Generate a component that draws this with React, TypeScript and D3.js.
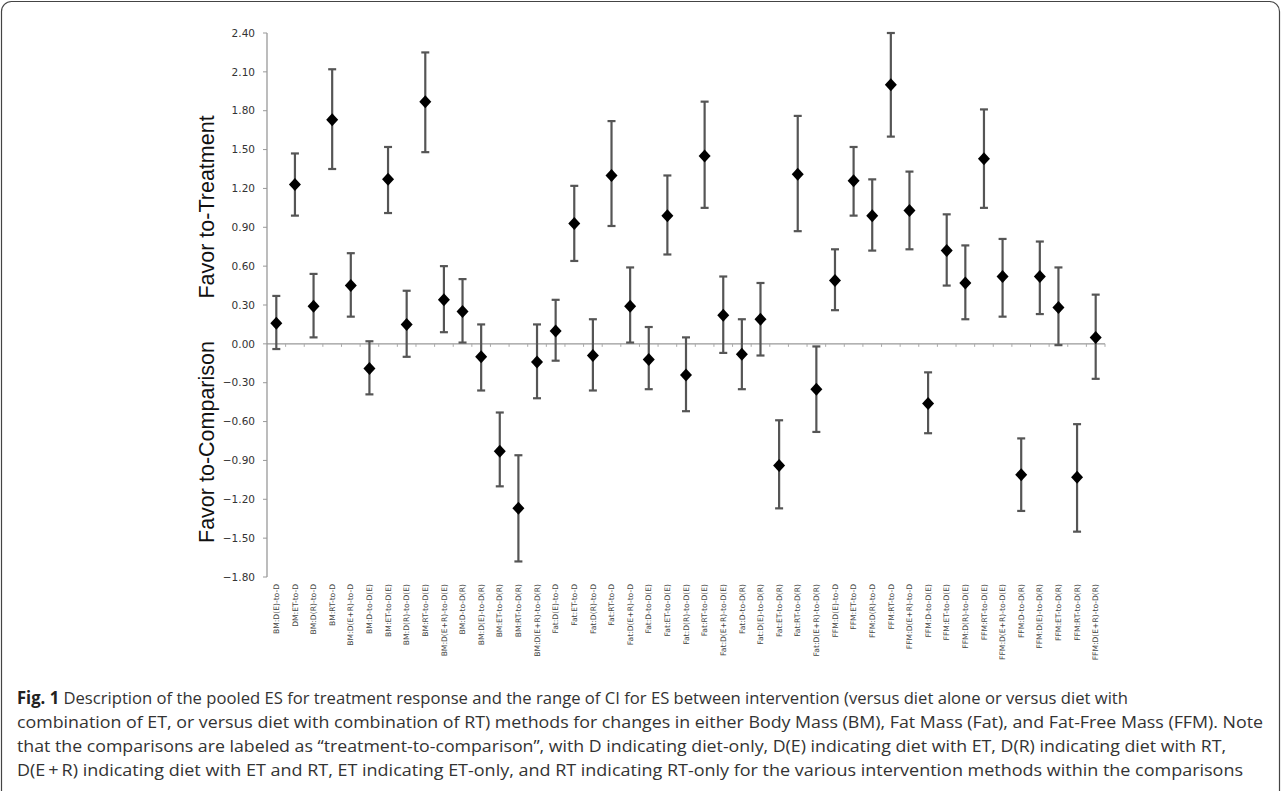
import React from 'react';
import * as d3 from 'd3';

// comparisons, in the order they appear on the x axis
const categories = [
  'BM:D(E)-to-D', 'DM:ET-to-D', 'BM:D(R)-to-D', 'BM:RT-to-D', 'BM:D(E+R)-to-D',
  'BM:D-to-D(E)', 'BM:ET-to-D(E)', 'BM:D(R)-to-D(E)', 'BM:RT-to-D(E)', 'BM:D(E+R)-to-D(E)',
  'BM:D-to-D(R)', 'BM:D(E)-to-D(R)', 'BM:ET-to-D(R)', 'BM:RT-to-D(R)', 'BM:D(E+R)-to-D(R)',
  'Fat:D(E)-to-D', 'Fat:ET-to-D', 'Fat:D(R)-to-D', 'Fat:RT-to-D', 'Fat:D(E+R)-to-D',
  'Fat:D-to-D(E)', 'Fat:ET-to-D(E)', 'Fat:D(R)-to-D(E)', 'Fat:RT-to-D(E)', 'Fat:D(E+R)-to-D(E)',
  'Fat:D-to-D(R)', 'Fat:D(E)-to-D(R)', 'Fat:ET-to-D(R)', 'Fat:RT-to-D(R)', 'Fat:D(E+R)-to-D(R)',
  'FFM:D(E)-to-D', 'FFM:ET-to-D', 'FFM:D(R)-to-D', 'FFM:RT-to-D', 'FFM:D(E+R)-to-D',
  'FFM:D-to-D(E)', 'FFM:ET-to-D(E)', 'FFM:D(R)-to-D(E)', 'FFM:RT-to-D(E)', 'FFM:D(E+R)-to-D(E)',
  'FFM:D-to-D(R)', 'FFM:D(E)-to-D(R)', 'FFM:ET-to-D(R)', 'FFM:RT-to-D(R)', 'FFM:D(E+R)-to-D(R)',
];

// pooled effect size
const es = [
  0.16, 1.23, 0.29, 1.73, 0.45, -0.19, 1.27, 0.15, 1.87, 0.34,
  0.25, -0.10, -0.83, -1.27, -0.14, 0.10, 0.93, -0.09, 1.30, 0.29,
  -0.12, 0.99, -0.24, 1.45, 0.22, -0.08, 0.19, -0.94, 1.31, -0.35,
  0.49, 1.26, 0.99, 2.00, 1.03, -0.46, 0.72, 0.47, 1.43, 0.52,
  -1.01, 0.52, 0.28, -1.03, 0.05,
];

// CI upper / lower
const ciUpper = [
  0.37, 1.47, 0.54, 2.12, 0.70, 0.02, 1.52, 0.41, 2.25, 0.60,
  0.50, 0.15, -0.53, -0.86, 0.15, 0.34, 1.22, 0.19, 1.72, 0.59,
  0.13, 1.30, 0.05, 1.87, 0.52, 0.19, 0.47, -0.59, 1.76, -0.02,
  0.73, 1.52, 1.27, 2.40, 1.33, -0.22, 1.00, 0.76, 1.81, 0.81,
  -0.73, 0.79, 0.59, -0.62, 0.38,
];
const ciLower = [
  -0.04, 0.99, 0.05, 1.35, 0.21, -0.39, 1.01, -0.10, 1.48, 0.09,
  0.01, -0.36, -1.10, -1.68, -0.42, -0.13, 0.64, -0.36, 0.91, 0.01,
  -0.35, 0.69, -0.52, 1.05, -0.07, -0.35, -0.09, -1.27, 0.87, -0.68,
  0.26, 0.99, 0.72, 1.60, 0.73, -0.69, 0.45, 0.19, 1.05, 0.21,
  -1.29, 0.23, -0.01, -1.45, -0.27,
];

const yTicks = [-1.8, -1.5, -1.2, -0.9, -0.6, -0.3, 0, 0.3, 0.6, 0.9, 1.2, 1.5, 1.8, 2.1, 2.4];

const captionLines = [
  ' Description of the pooled ES for treatment response and the range of CI for ES between intervention (versus diet alone or versus diet with',
  'combination of ET, or versus diet with combination of RT) methods for changes in either Body Mass (BM), Fat Mass (Fat), and Fat-Free Mass (FFM). Note',
  'that the comparisons are labeled as \u201ctreatment-to-comparison\u201d, with D indicating diet-only, D(E) indicating diet with ET, D(R) indicating diet with RT,',
  'D(E\u2009+\u2009R) indicating diet with ET and RT, ET indicating ET-only, and RT indicating RT-only for the various intervention methods within the comparisons',
];
const captionWidths = [1111, 1246, 1209, 1226];

const W = 1281;
const H = 791;

export default function App() {
  const x = d3.scaleBand<string>().domain(categories).range([267, 1105]);
  const y = d3.scaleLinear().domain([-1.8, 2.4]).range([577, 33]);
  const fmt = d3.format('.2f');
  const bw = x.bandwidth();
  const cx = (c: string) => (x(c) as number) + bw / 2;
  const diamond = (px: number, py: number) =>
    `M${px},${py - 6.5}L${px + 6},${py}L${px},${py + 6.5}L${px - 6},${py}Z`;

  return (
    <svg width={W} height={H} style={{ position: 'absolute', left: 0, top: 0, background: '#fff' }}>
      <rect x={1.5} y={1.5} width={W - 3} height={H + 20} rx={10} fill="none" stroke="#444" strokeWidth={1.2} />

      {/* y axis */}
      <line x1={267} x2={267} y1={y(-1.8)} y2={y(2.4)} stroke="#999" strokeWidth={1.3} />
      {yTicks.map((t) => (
        <g key={t}>
          <line x1={263} x2={267} y1={y(t)} y2={y(t)} stroke="#999" />
          <text x={255} y={y(t)} dy="0.35em" textAnchor="end" fontSize={10.5}
            fontFamily="'DejaVu Sans', sans-serif" fill="#333">{fmt(t)}</text>
        </g>
      ))}

      {/* zero line with category ticks */}
      <line x1={267} x2={1105} y1={y(0)} y2={y(0)} stroke="#999" strokeWidth={1.3} />
      {categories.map((c) => (
        <line key={c} x1={(x(c) as number) + bw} x2={(x(c) as number) + bw} y1={y(0)} y2={y(0) + 3}
          stroke="#aaa" />
      ))}

      {/* error bars */}
      {categories.map((c, i) => {
        const px = cx(c);
        return (
          <g key={c} stroke="#555" strokeWidth={2.2}>
            <line x1={px} x2={px} y1={y(ciUpper[i])} y2={y(ciLower[i])} />
            <line x1={px - 4} x2={px + 4} y1={y(ciUpper[i])} y2={y(ciUpper[i])} />
            <line x1={px - 4} x2={px + 4} y1={y(ciLower[i])} y2={y(ciLower[i])} />
          </g>
        );
      })}
      {categories.map((c, i) => (
        <path key={c} d={diamond(cx(c), y(es[i]))} fill="#000" />
      ))}

      {/* category labels */}
      {categories.map((c) => (
        <text key={c} transform={`translate(${cx(c)},584) rotate(-90)`} dy="0.35em" textAnchor="end"
          fontSize={7.6} fontFamily="'DejaVu Sans', sans-serif" fill="#444">{c}</text>
      ))}

      {/* axis titles */}
      <text transform="translate(214,207) rotate(-90)" textAnchor="middle" fontSize={21.5}
        fontFamily="'Liberation Sans', Arial, sans-serif" fill="#111">Favor to-Treatment</text>
      <text transform="translate(214,442) rotate(-90)" textAnchor="middle" fontSize={21.5}
        fontFamily="'Liberation Sans', Arial, sans-serif" fill="#111">Favor to-Comparison</text>

      {/* caption */}
      {captionLines.map((line, i) => (
        <text key={i} x={17} y={704 + i * 24} fontSize={17} fontFamily="'Open Sans', sans-serif" fill="#333"
          textLength={captionWidths[i]} lengthAdjust="spacingAndGlyphs">
          {i === 0 && <tspan fontWeight="bold" fill="#222">Fig. 1</tspan>}
          {line}
        </text>
      ))}
    </svg>
  );
}
